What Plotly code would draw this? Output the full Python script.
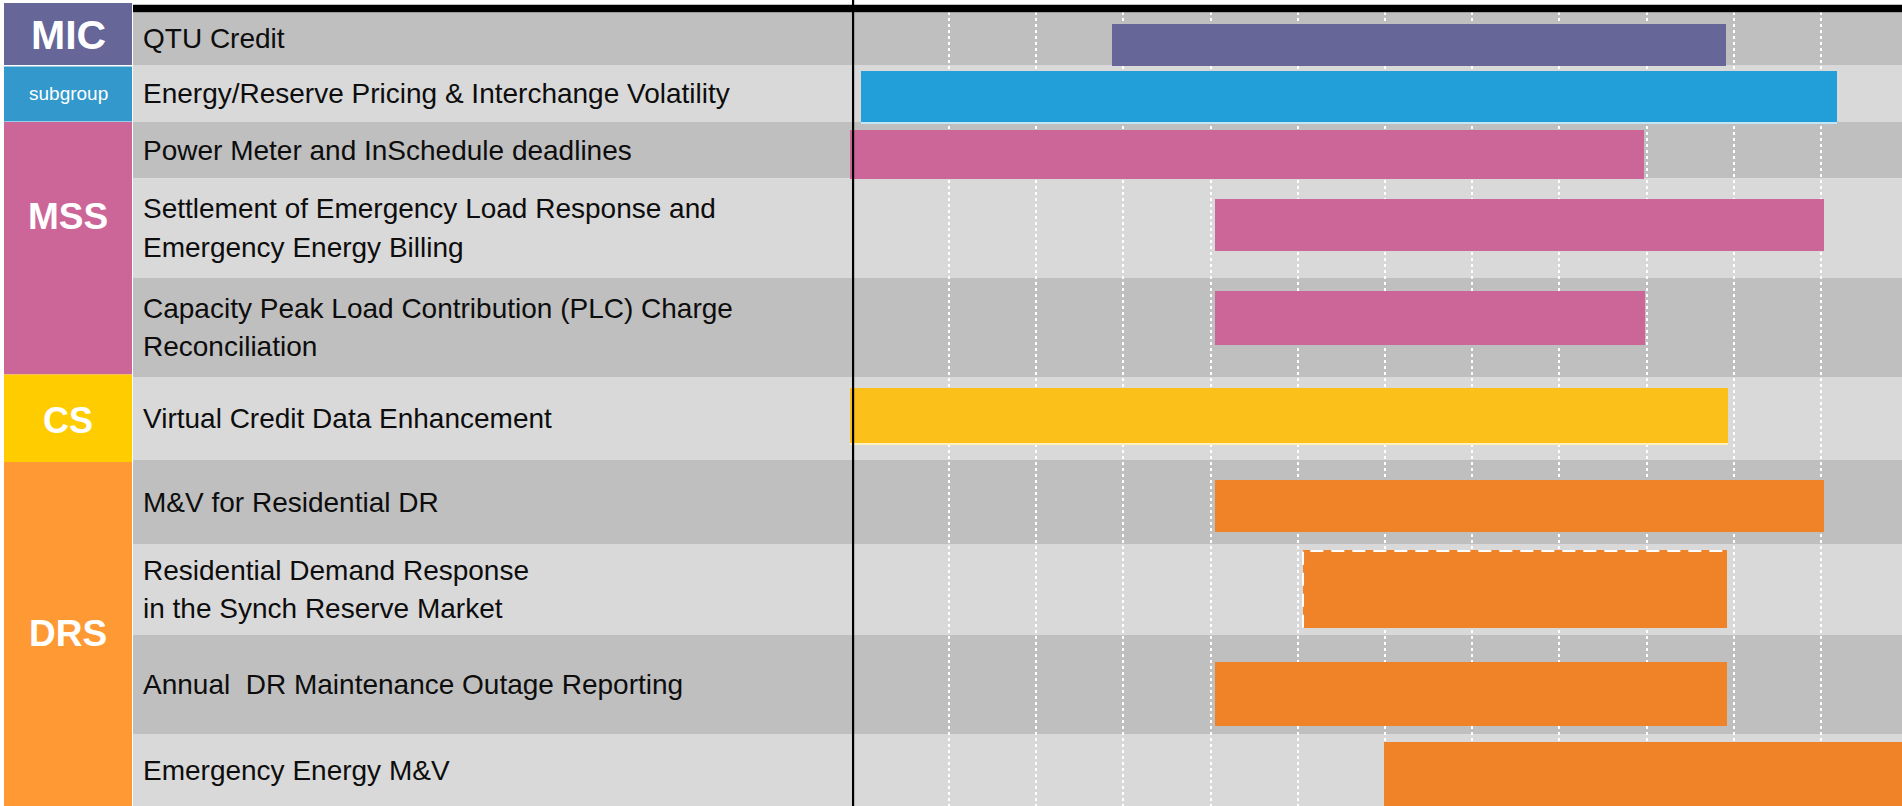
import plotly.graph_objects as go

# ------------------------------------------------------------------ data
group_names = ["MIC", "subgroup", "MSS", "CS", "DRS"]
task_labels = [
    "QTU Credit",
    "Energy/Reserve Pricing & Interchange Volatility",
    "Power Meter and InSchedule deadlines",
    "Settlement of Emergency Load Response and<br>Emergency Energy Billing",
    "Capacity Peak Load Contribution (PLC) Charge<br>Reconciliation",
    "Virtual Credit Data Enhancement",
    "M&V for Residential DR",
    "Residential Demand Response<br>in the Synch Reserve Market",
    "Annual\u00a0 DR Maintenance Outage Reporting",
    "Emergency Energy M&V",
]
task_group = ["MIC", "subgroup", "MSS", "MSS", "MSS", "CS", "DRS", "DRS", "DRS", "DRS"]
start_month = [2.87, -0.01, -0.14, 4.05, 4.05, -0.14, 4.05, 5.06, 4.05, 5.99]
end_month = [9.91, 11.18, 8.97, 11.04, 8.98, 9.93, 11.04, 9.92, 9.92, 12.5]
month_ticks = [1, 2, 3, 4, 5, 6, 7, 8, 9, 10, 11]
today_month = -0.10

# ------------------------------------------------------------------ layout / style
W, H = 1902, 806
ORIGIN_PX = 861.8          # pixel column of month 0
PX_PER_MONTH = 87.2
LABEL_COL_PX = 133
LABEL_TEXT_PX = 141
BLOCK_X_PX = (4, 132)
LABEL_SIZE = 28
LINE_STEP = 38.3           # baseline distance for two-line labels

ROW_EDGES = [12.3, 65, 122, 178.5, 277.7, 377, 460, 544, 635, 734, 806]
BAR_TOP = [24, 71, 130, 199, 290.7, 387.7, 480, 550, 661.7, 742.3]
BAR_BOTTOM = [65.5, 122, 179, 250.7, 345.3, 442.7, 532, 627.7, 725.7, 815]
BAND_COLORS = ["#BFBFBF", "#D9D9D9"]

GROUP_SPAN = {"MIC": (3, 65), "subgroup": (66.5, 121.5), "MSS": (122, 374.5),
              "CS": (374.5, 462), "DRS": (462, 806)}
GROUP_LABEL_Y = {"MIC": 35, "subgroup": 93, "MSS": 216, "CS": 420, "DRS": 633}
GROUP_LABEL_SIZE = {"MIC": 41, "subgroup": 19, "MSS": 37, "CS": 36, "DRS": 37}
GROUP_LABEL_BOLD = {"MIC": True, "subgroup": False, "MSS": True, "CS": True, "DRS": True}
GROUP_COLOR = {"MIC": "#666699", "subgroup": "#3399CC", "MSS": "#CC6699",
               "CS": "#FFCC00", "DRS": "#FF9933"}
BAR_COLOR = {"MIC": "#666699", "subgroup": "#229FD9", "MSS": "#CC6699",
             "CS": "#FBC01A", "DRS": "#F08228"}
BAR_EDGE = {1: ("#C3E5F6", 2.3), 5: ("#FFF1BF", 2.6)}   # light lower edge
DASHED_BAR = 7

FONT = "Liberation Sans, Arial, Helvetica, sans-serif"

n = len(task_labels)
row_center = [(ROW_EDGES[i] + ROW_EDGES[i + 1]) / 2 for i in range(n)]
bar_center = [(BAR_TOP[i] + BAR_BOTTOM[i]) / 2 for i in range(n)]
bar_thick = [BAR_BOTTOM[i] - BAR_TOP[i] for i in range(n)]
durations = [end_month[i] - start_month[i] for i in range(n)]
colors = [BAR_COLOR[g] for g in task_group]

x_range = [-ORIGIN_PX / PX_PER_MONTH, (W - ORIGIN_PX) / PX_PER_MONTH]

fig = go.Figure()

# light edge strips under some bars
for i, (col, extra) in BAR_EDGE.items():
    fig.add_trace(go.Bar(
        orientation="h", y=[bar_center[i] + extra / 2], x=[durations[i]],
        base=[start_month[i]], width=[bar_thick[i] + extra],
        marker=dict(color=col, line=dict(width=0)), hoverinfo="skip",
        showlegend=False))

# main bars
fig.add_trace(go.Bar(
    orientation="h", y=bar_center, x=durations, base=start_month, width=bar_thick,
    marker=dict(color=colors, line=dict(width=0), opacity=1),
    hovertext=[t.replace("<br>", " ") for t in task_labels], hoverinfo="text",
    showlegend=False))

# dashed white outline (top + left) on the tentative bar
i = DASHED_BAR
fig.add_trace(go.Scatter(
    x=[start_month[i], start_month[i], end_month[i]],
    y=[BAR_BOTTOM[i], BAR_TOP[i] + 1, BAR_TOP[i] + 1],
    mode="lines", line=dict(color="white", width=2, dash="13px,8px"),
    hoverinfo="skip", showlegend=False))

shapes = []
# row bands
for i in range(n):
    shapes.append(dict(type="rect", xref="paper", yref="y",
                       x0=LABEL_COL_PX / W, x1=1, y0=ROW_EDGES[i], y1=ROW_EDGES[i + 1],
                       fillcolor=BAND_COLORS[i % 2], line=dict(width=0), layer="below"))
# group blocks
for g in group_names:
    y0, y1 = GROUP_SPAN[g]
    shapes.append(dict(type="rect", xref="paper", yref="y",
                       x0=BLOCK_X_PX[0] / W, x1=BLOCK_X_PX[1] / W, y0=y0, y1=y1,
                       fillcolor=GROUP_COLOR[g], line=dict(width=0), layer="below"))
# top black rule
shapes.append(dict(type="rect", xref="paper", yref="y",
                   x0=LABEL_COL_PX / W, x1=1, y0=4.7, y1=12.3,
                   fillcolor="black", line=dict(width=0), layer="above"))
# today line
shapes.append(dict(type="line", xref="x", yref="y", x0=today_month, x1=today_month,
                   y0=0, y1=H, line=dict(color="black", width=2.2), layer="above"))

annotations = []
for i in range(n):
    lines = task_labels[i].split("<br>")
    k = len(lines)
    for j, line in enumerate(lines):
        yc = row_center[i] + (j - (k - 1) / 2) * LINE_STEP
        annotations.append(dict(
            xref="paper", yref="y", x=LABEL_TEXT_PX / W, y=yc,
            xanchor="left", yanchor="middle", align="left", showarrow=False,
            text=line, font=dict(family=FONT, size=LABEL_SIZE, color="#0d0d0d")))
for g in group_names:
    txt = "<b>%s</b>" % g if GROUP_LABEL_BOLD[g] else g
    annotations.append(dict(
        xref="paper", yref="y", x=(BLOCK_X_PX[0] + BLOCK_X_PX[1]) / 2 / W,
        y=GROUP_LABEL_Y[g], xanchor="center", yanchor="middle", showarrow=False,
        text=txt, font=dict(family=FONT, size=GROUP_LABEL_SIZE[g], color="white")))

fig.update_layout(
    width=W, height=H, margin=dict(l=0, r=0, t=0, b=0),
    paper_bgcolor="white", plot_bgcolor="white",
    barmode="overlay", bargap=0,
    shapes=shapes, annotations=annotations,
    xaxis=dict(range=x_range, tickvals=month_ticks, showticklabels=False, ticks="",
               showgrid=True, gridcolor="white", gridwidth=2, griddash="3px,3px",
               zeroline=False, showline=False, fixedrange=True),
    yaxis=dict(range=[H, 0], showgrid=False, zeroline=False, showticklabels=False,
               ticks="", showline=False, fixedrange=True),
    font=dict(family=FONT),
)

fig.write_html("out.html", post_script="document.body.style.margin='0';",
               config={"displayModeBar": False})
